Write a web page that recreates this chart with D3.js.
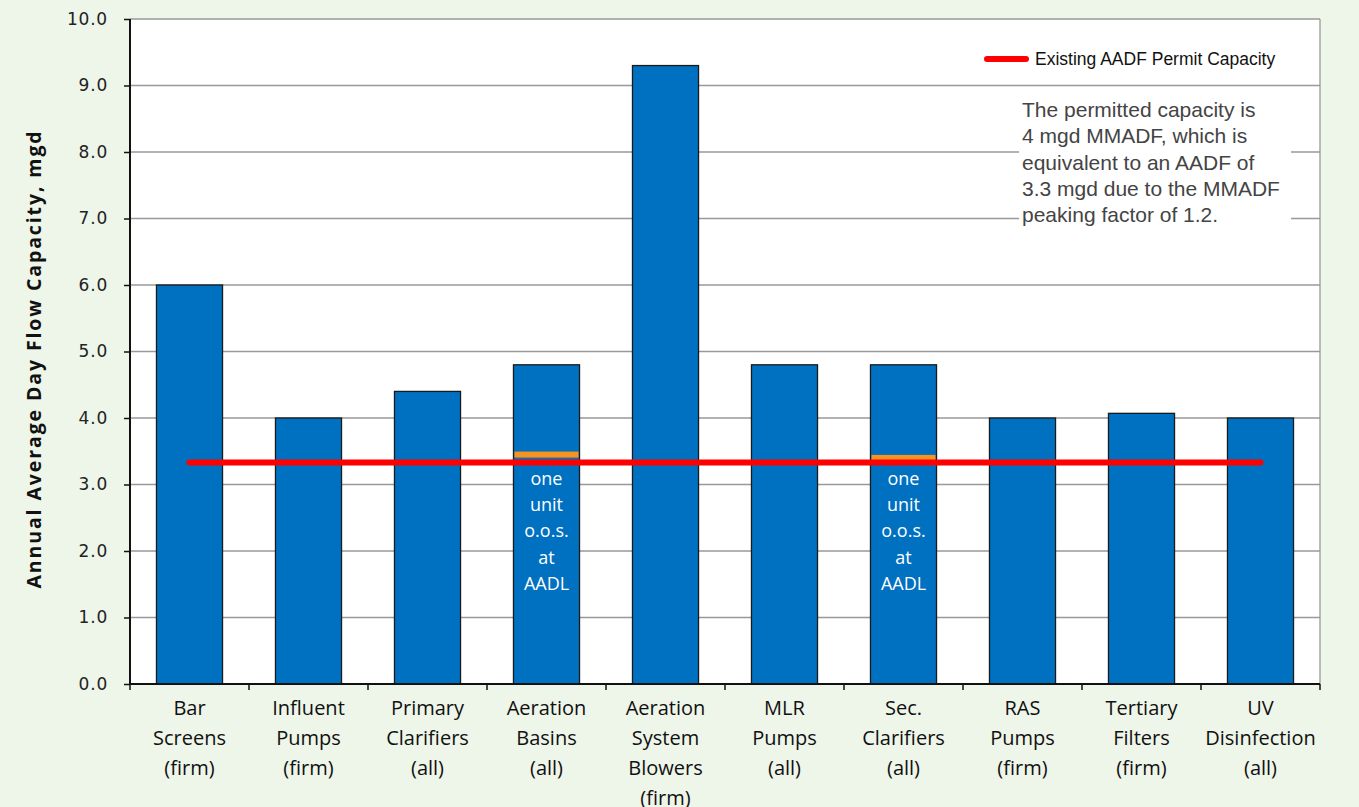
<!DOCTYPE html>
<html>
<head>
<meta charset="utf-8">
<script src="https://cdn.jsdelivr.net/npm/d3@7"></script>
<style>
  body { margin: 0; background: #eef5e9; }
  svg { display: block; }
</style>
</head>
<body>
<svg id="chart" width="1359" height="807"></svg>
<script>
// data
const categories = [
    ["Bar", "Screens", "(firm)"],
    ["Influent", "Pumps", "(firm)"],
    ["Primary", "Clarifiers", "(all)"],
    ["Aeration", "Basins", "(all)"],
    ["Aeration", "System", "Blowers", "(firm)"],
    ["MLR", "Pumps", "(all)"],
    ["Sec.", "Clarifiers", "(all)"],
    ["RAS", "Pumps", "(firm)"],
    ["Tertiary", "Filters", "(firm)"],
    ["UV", "Disinfection", "(all)"]
];
const capacity = [6.0, 4.0, 4.4, 4.8, 9.3, 4.8, 4.8, 4.0, 4.07, 4.0];
// one unit out of service capacity (only where shown)
const oneUnitOos = [null, null, null, 3.45, null, null, 3.4, null, null, null];
const permitCapacity = 3.33;
const yTicks = [0, 1, 2, 3, 4, 5, 6, 7, 8, 9, 10];
const noteLines = [
    "The permitted capacity is",
    "4 mgd MMADF, which is",
    "equivalent to an AADF of",
    "3.3 mgd due to the MMADF",
    "peaking factor of 1.2."
];
const oosLines = ["one", "unit", "o.o.s.", "at", "AADL"];

const svg = d3.select("#chart");
const margin = {left: 130, right: 39, top: 19, bottom: 123};
const W = 1359, H = 807;
const plotW = W - margin.left - margin.right;
const plotH = H - margin.top - margin.bottom;

const x = d3.scaleBand().domain(d3.range(categories.length)).range([0, plotW]).paddingInner(0.445).paddingOuter(0.2225);
const y = d3.scaleLinear().domain([0, 10]).range([plotH, 0]);

const g = svg.append("g").attr("transform", `translate(${margin.left},${margin.top})`);

// plot background
g.append("rect").attr("width", plotW).attr("height", plotH).attr("fill", "#fff");

// gridlines
g.append("g").selectAll("line").data(yTicks.slice(1)).enter().append("line")
    .attr("x1", 0).attr("x2", plotW)
    .attr("y1", d => y(d)).attr("y2", d => y(d))
    .attr("stroke", "#999").attr("stroke-width", 1.3);
g.append("line").attr("x1", plotW).attr("x2", plotW).attr("y1", 0).attr("y2", plotH)
    .attr("stroke", "#999").attr("stroke-width", 1.3);

// bars
g.append("g").selectAll("rect").data(capacity).enter().append("rect")
    .attr("x", (d, i) => x(i))
    .attr("y", d => y(d))
    .attr("width", x.bandwidth())
    .attr("height", d => plotH - y(d))
    .attr("fill", "#0070c0")
    .attr("stroke", "#1a1a1a")
    .attr("stroke-width", 1.3);

// one unit o.o.s. markers
const oos = capacity.map((d, i) => ({i, v: oneUnitOos[i]})).filter(d => d.v != null);
g.append("g").selectAll("rect").data(oos).enter().append("rect")
    .attr("x", d => x(d.i) + 1)
    .attr("y", d => y(d.v) - 3)
    .attr("width", x.bandwidth() - 2)
    .attr("height", 6)
    .attr("fill", "#f7931e");

oos.forEach(d => {
    g.append("g").selectAll("text").data(oosLines).enter().append("text")
        .attr("x", x(d.i) + x.bandwidth() / 2)
        .attr("y", (t, k) => y(3.33) + 22 + k * 26.4)
        .attr("text-anchor", "middle")
        .attr("fill", "#fff")
        .style("font-family", "Open Sans, Lato, sans-serif")
        .style("font-size", "18px")
        .text(t => t);
});

// permit line
g.append("line")
    .attr("x1", x(0) + x.bandwidth() / 2)
    .attr("x2", x(categories.length - 1) + x.bandwidth() / 2)
    .attr("y1", y(permitCapacity)).attr("y2", y(permitCapacity))
    .attr("stroke", "#ff0000").attr("stroke-width", 6).attr("stroke-linecap", "round");

// axes
const yAxis = g.append("g").call(d3.axisLeft(y).tickValues(yTicks).tickSize(6).tickPadding(8).tickFormat(d3.format(".1f")));
yAxis.select(".domain").attr("stroke", "#111").attr("stroke-width", 2).attr("d", `M0,${plotH}V0`);
yAxis.selectAll(".tick line").attr("stroke", "#111").attr("stroke-width", 1.5);
yAxis.selectAll("text").style("font-family", "DejaVu Sans, sans-serif").style("font-size", "17px")
    .style("letter-spacing", "0.8px").attr("fill", "#222").attr("dx", "-8");

const xb = d3.range(categories.length + 1).map(i => i * plotW / categories.length);
const xAxis = g.append("g").attr("transform", `translate(0,${plotH})`);
xAxis.append("line").attr("x1", 0).attr("x2", plotW).attr("stroke", "#111").attr("stroke-width", 2);
xAxis.selectAll(".tk").data(xb).enter().append("line").attr("class", "tk")
    .attr("x1", d => d).attr("x2", d => d).attr("y1", 0).attr("y2", 6)
    .attr("stroke", "#111").attr("stroke-width", 1.5);

categories.forEach((lines, i) => {
    xAxis.append("g").selectAll("text").data(lines).enter().append("text")
        .attr("x", x(i) + x.bandwidth() / 2)
        .attr("y", (t, k) => 31 + k * 30)
        .attr("text-anchor", "middle")
        .attr("fill", "#111")
        .style("font-family", "Open Sans, Lato, sans-serif")
        .style("font-size", "20px")
        .text(t => t);
});

// y axis title
svg.append("text")
    .attr("transform", `translate(41,359) rotate(-90)`)
    .attr("text-anchor", "middle")
    .attr("fill", "#111")
    .style("font-family", "Open Sans, Lato, sans-serif")
    .style("font-weight", "bold")
    .style("font-size", "19.5px")
    .style("letter-spacing", "1.9px")
    .text("Annual Average Day Flow Capacity, mgd");

// legend
svg.append("line").attr("x1", 987).attr("x2", 1026).attr("y1", 59).attr("y2", 59)
    .attr("stroke", "#ff0000").attr("stroke-width", 6).attr("stroke-linecap", "round");
svg.append("text").attr("x", 1035).attr("y", 65)
    .style("font-family", "Liberation Sans, Arial, sans-serif").style("font-size", "17.5px")
    .attr("fill", "#111").text("Existing AADF Permit Capacity");

// note box
svg.append("rect").attr("x", 1019).attr("y", 92).attr("width", 272).attr("height", 140).attr("fill", "#fff");
svg.append("g").selectAll("text").data(noteLines).enter().append("text")
    .attr("x", 1022)
    .attr("y", (t, k) => 117 + k * 26.3)
    .style("font-family", "Liberation Sans, Arial, sans-serif").style("font-size", "21px")
    .attr("fill", "#444").text(t => t);
</script>
</body>
</html>
